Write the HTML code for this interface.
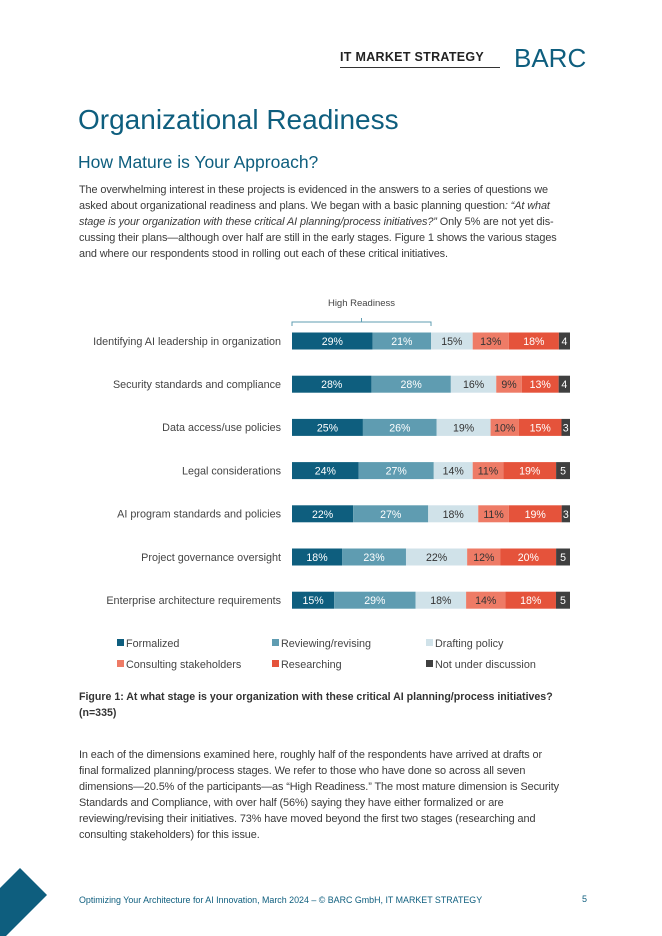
<!DOCTYPE html>
<html><head><meta charset="utf-8"><style>
*{margin:0;padding:0;box-sizing:border-box}
body{width:662px;height:936px;position:relative;background:#fff;font-family:"Liberation Sans",sans-serif;color:#333;overflow:hidden}
.abs{position:absolute;white-space:nowrap}
.p{font-size:10.9px;line-height:16px;color:#3a3a3a;letter-spacing:-0.1px}
</style></head><body>
<div class="abs" style="left:340px;top:50px;font-size:12.5px;font-weight:bold;color:#222;letter-spacing:0.3px">IT MARKET STRATEGY</div>
<div class="abs" style="left:340px;top:67px;width:160px;height:1px;background:#333"></div>
<div class="abs" style="left:514px;top:43px;font-size:26px;color:#0e5e7e;letter-spacing:0px">BARC</div>
<div class="abs" style="left:78px;top:104px;font-size:28px;color:#0e5e7e">Organizational Readiness</div>
<div class="abs" style="left:78px;top:152px;font-size:17.5px;color:#0e5e7e">How Mature is Your Approach?</div>
<div class="abs p" style="left:79px;top:182px">
The overwhelming interest in these projects is evidenced in the answers to a series of questions we<br>
asked about organizational readiness and plans. We began with a basic planning question<i>: “At what<br>
stage is your organization with these critical AI planning/process initiatives?”</i> Only 5% are not yet dis-<br>
cussing their plans—although over half are still in the early stages. Figure 1 shows the various stages<br>
and where our respondents stood in rolling out each of these critical initiatives.</div>

<svg id="chart" class="abs" style="left:0;top:0" width="662" height="720"></svg>

<div class="abs" style="left:79px;top:689px;font-size:10.6px;line-height:16px;font-weight:bold;color:#333">Figure 1: At what stage is your organization with these critical AI planning/process initiatives?<br>(n=335)</div>
<div class="abs p" style="left:79px;top:747px">
In each of the dimensions examined here, roughly half of the respondents have arrived at drafts or<br>
final formalized planning/process stages. We refer to those who have done so across all seven<br>
dimensions—20.5% of the participants—as “High Readiness.” The most mature dimension is Security<br>
Standards and Compliance, with over half (56%) saying they have either formalized or are<br>
reviewing/revising their initiatives. 73% have moved beyond the first two stages (researching and<br>
consulting stakeholders) for this issue.</div>
<svg class="abs" style="left:0;top:860px" width="60" height="76"><polygon points="0,28 20,8 47,35 6,76 0,76" fill="#0e5e7e"/></svg>
<div class="abs" style="left:79px;top:895px;font-size:8.9px;color:#0e5e7e">Optimizing Your Architecture for AI Innovation, March 2024 – © BARC GmbH, IT MARKET STRATEGY</div>
<div class="abs" style="left:582px;top:894px;font-size:9px;color:#0e5e7e">5</div>
<script>
const categories=["Identifying AI leadership in organization","Security standards and compliance","Data access/use policies","Legal considerations","AI program standards and policies","Project governance oversight","Enterprise architecture requirements"];
const seriesNames=["Formalized","Reviewing/revising","Drafting policy","Consulting stakeholders","Researching","Not under discussion"];
const formalized=[29,28,25,24,22,18,15];
const reviewing=[21,28,26,27,27,23,29];
const drafting=[15,16,19,14,18,22,18];
const consulting=[13,9,10,11,11,12,14];
const researching=[18,13,15,19,19,20,18];
const notDiscussed=[4,4,3,5,3,5,5];
const series=[formalized,reviewing,drafting,consulting,researching,notDiscussed];
const colors=["#0e5e7e","#5f9cb1","#d0e2e9","#ee7b66","#e5533b","#3f3f3f"];
const textColors=["#fff","#fff","#333","#333","#fff","#fff"];
const svg=document.getElementById('chart');
const NS="http://www.w3.org/2000/svg";
const x0=292,xw=278,y0=341,rowH=43.2,barH=17;
const yc=i=>y0+i*rowH;
function mk(t,a){const e=document.createElementNS(NS,t);for(const k in a)e.setAttribute(k,a[k]);svg.appendChild(e);return e;}
categories.forEach((c,i)=>{
  const t=mk('text',{x:281,y:yc(i)+3.8,'text-anchor':'end','font-size':10.8,fill:'#444'});
  t.textContent=c;
  
  
  let total=0;series.forEach(s=>total+=s[i]);
  const xs=v=>v/total*xw;
  let acc=0;
  series.forEach((s,j)=>{
    const v=s[i];
    const r=mk('rect',{x:x0+xs(acc),y:yc(i)-barH/2,width:xs(v),height:barH,fill:colors[j]});
    
    
    const lt=mk('text',{x:x0+xs(acc+v/2),y:yc(i)+4,'text-anchor':'middle','font-size':10.6,fill:textColors[j]});
    lt.textContent=j==5?String(v):v+'%';
    
    
    acc+=v;
  });
});
const hw=xw/2;
const br=mk('path',{d:`M${x0},326 L${x0},322 L${x0+hw},322 L${x0+hw},326 M${x0+hw/2},322 L${x0+hw/2},318`,stroke:'#5f9cb1',fill:'none','stroke-width':1});


const ht=mk('text',{x:x0+hw/2,y:306,'text-anchor':'middle','font-size':9.5,fill:'#444'});
ht.textContent='High Readiness';


const lx=[117,272,426],ly=[643,664];
seriesNames.forEach((n,j)=>{
  const cx=lx[j%3],cy=ly[Math.floor(j/3)];
  const s=mk('rect',{x:cx,y:cy-4,width:7,height:7,fill:colors[j]});
  
  
  const t=mk('text',{x:cx+9,y:cy+3.8,'font-size':10.8,fill:'#444'});
  t.textContent=n;
  
  
});
</script>
</body></html>
